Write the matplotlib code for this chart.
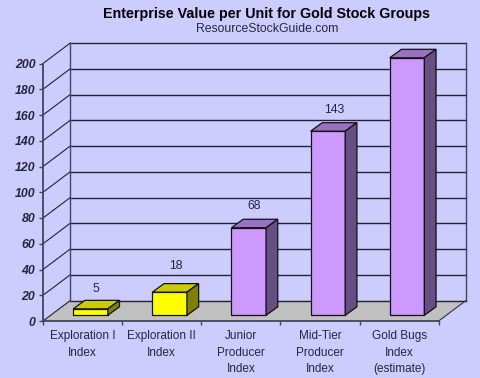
import matplotlib
matplotlib.use("Agg")
import matplotlib.pyplot as plt

categories = ["Exploration I\nIndex", "Exploration II\nIndex", "Junior\nProducer\nIndex",
              "Mid-Tier\nProducer\nIndex", "Gold Bugs\nIndex\n(estimate)"]
values = [5, 18, 68, 143, 200]
label_offsets = [14.5, 18.5, 15.5, 15.5, 17]
y_ticks = list(range(0, 201, 20))
title = "Enterprise Value per Unit for Gold Stock Groups"
subtitle = "ResourceStockGuide.com"

W, H = 480, 378
BG = "#CCCCFF"
plt.rcParams["font.family"] = ["Liberation Sans", "DejaVu Sans"]
fig = plt.figure(figsize=(W / 100, H / 100), dpi=100, facecolor=BG)
L, R, T, B = 43.0, 438.7, 63.5, 321.0
ax = fig.add_axes([L / W, 1 - B / H, (R - L) / W, (B - T) / H])
ax.set_xlim(0, 5)
ax.set_ylim(0, 200)
ax.patch.set_visible(False)
ux = (R - L) / 5
uy = (B - T) / 200
wall_dx, wall_dy = 27 / ux, 20.3 / uy
bar_dx, bar_dy = 11.7 / ux, 8.5 / uy
bar_w = 34.6 / ux
bar_base = 5.7 / uy
INK = "#26263a"
GRID = "#222233"

for s in ("top", "right"):
    ax.spines[s].set_visible(False)
for s in ("left", "bottom"):
    ax.spines[s].set_color("#44445a")
    ax.spines[s].set_linewidth(1.3)

# floor
ax.fill([0, 5, 5 + wall_dx, wall_dx], [0, 0, wall_dy, wall_dy], color="#C0C0C0", lw=0, zorder=1, clip_on=False)
ax.plot([5, 5 + wall_dx], [0, wall_dy], color="#333344", lw=0.8, zorder=1.5, clip_on=False)

# back wall grid and side wall diagonals
for v in y_ticks:
    ax.plot([wall_dx, 5 + wall_dx], [v + wall_dy] * 2, color=GRID, lw=1.0, zorder=1.5, clip_on=False)
    ax.plot([0, wall_dx], [v, v + wall_dy], color=GRID, lw=0.8, zorder=1.5, clip_on=False)
ax.plot([wall_dx] * 2, [wall_dy, 200 + wall_dy], color="#44445a", lw=1.0, zorder=1.5, clip_on=False)
ax.plot([5 + wall_dx] * 2, [wall_dy, 200 + wall_dy], color="#44445a", lw=1.0, zorder=1.5, clip_on=False)

# bars
xs = [i + 0.6 for i in range(len(values))]
for x, v, off in zip(xs, values, label_offsets):
    purple = v > 50
    front = "#CC99FF" if purple else "#FFFF00"
    top = "#9A70C0" if purple else "#CCCC00"
    side = "#664F82" if purple else "#808000"
    x0, x1 = x - bar_w / 2, x + bar_w / 2
    y0, y1 = bar_base, bar_base + v
    ax.bar(x, v, width=bar_w, bottom=bar_base, color=front, edgecolor="#111111", lw=0.9, zorder=3, clip_on=False)
    ax.fill([x0, x1, x1 + bar_dx, x0 + bar_dx], [y1, y1, y1 + bar_dy, y1 + bar_dy],
            facecolor=top, edgecolor="#111111", lw=0.9, zorder=3, clip_on=False)
    ax.fill([x1, x1 + bar_dx, x1 + bar_dx, x1], [y0, y0 + bar_dy, y1 + bar_dy, y1],
            facecolor=side, edgecolor="#111111", lw=0.9, zorder=3, clip_on=False)
    ax.annotate(str(v), (x + bar_dx / 2, y1), xytext=(0, off), textcoords="offset points",
                ha="center", va="center", fontsize=8.8, color=INK, zorder=5)

ax.set_yticks(y_ticks)
ax.set_yticklabels([str(v) for v in y_ticks], fontsize=8.8, fontweight="bold", fontstyle="italic", color=INK)
ax.tick_params(axis="y", length=3, width=1, color="#44445a", pad=2.5)
ax.set_xticks(range(6))
ax.set_xticklabels([""] * 6)
ax.set_xticks([i + 0.5 for i in range(5)], minor=True)
ax.set_xticklabels(categories, minor=True, fontsize=8.5, color=INK, linespacing=1.5)
ax.tick_params(axis="x", which="major", length=3, width=1, color="#44445a")
ax.tick_params(axis="x", which="minor", length=0, pad=6.5)

fig.text(266.5 / W, 1 - 14 / H, title, ha="center", va="center", fontsize=10.3, fontweight="bold", color="#000000")
fig.text(267.5 / W, 1 - 29 / H, subtitle, ha="center", va="center", fontsize=8.8, color=INK)

fig.savefig("out.png", dpi=100, facecolor=BG)
